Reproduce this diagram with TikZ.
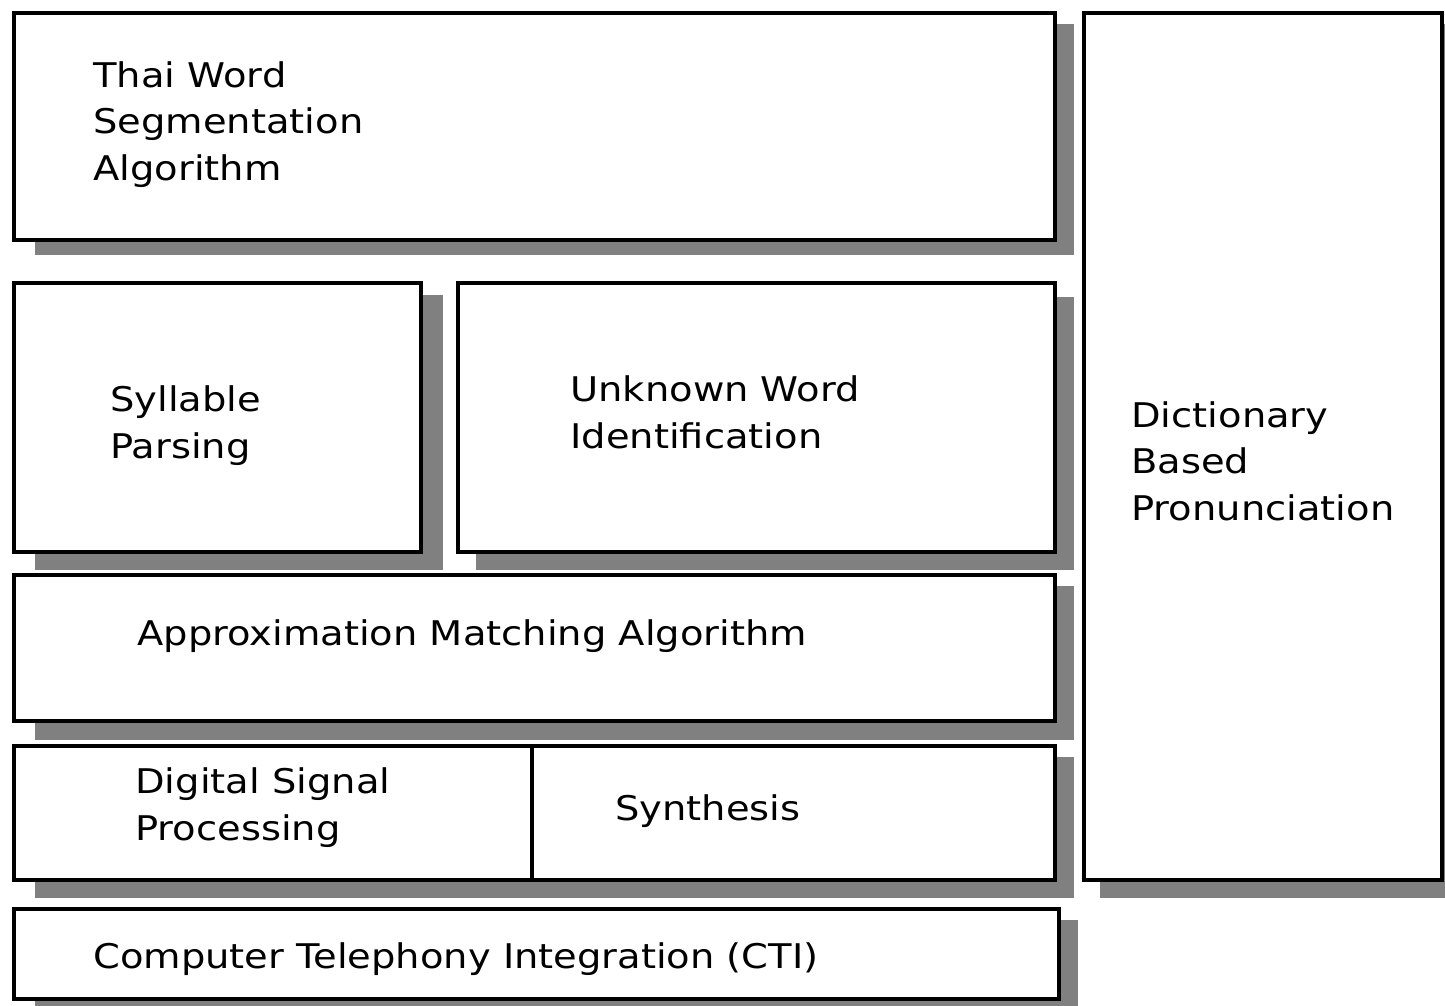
\documentclass[tikz,border=0pt]{standalone}
\usepackage{fontspec}
\setmainfont{DejaVu Sans}[FakeStretch=1.13]
\begin{document}
\begin{tikzpicture}[x=0.5pt,y=-0.5pt,
  shadowbox/.style={fill=black!50,draw=none},
  layerbox/.style={fill=white,draw=black,line width=2pt},
  label/.style={anchor=base west,inner sep=0pt,align=left,font=\fontsize{17}{23.25}\selectfont}]
\useasboundingbox (0,0) rectangle (1445,1006);
\begin{scope}
\clip (0,0) rectangle (1445,1006);
% shadows
\fill[shadowbox] (35,24) rectangle (1074,255);
\fill[shadowbox] (35,295) rectangle (443,570);
\fill[shadowbox] (476,297) rectangle (1074,570);
\fill[shadowbox] (35,586) rectangle (1074,740);
\fill[shadowbox] (35,757) rectangle (1074,898);
\fill[shadowbox] (35,920) rectangle (1078,1012);
\fill[shadowbox] (1100,24) rectangle (1462,898);
% boxes (line centres)
\draw[layerbox] (14,13) rectangle (1055,240);
\draw[layerbox] (14,283) rectangle (421,552);
\draw[layerbox] (458,283) rectangle (1055,552);
\draw[layerbox] (14,575) rectangle (1055,721);
\draw[layerbox] (14,746) rectangle (1055,880);
\coordinate (divtop) at (532,746);
\coordinate (divbot) at (532,880);
\draw[line width=2pt] (divtop) -- (divbot);
\draw[layerbox] (14,909) rectangle (1059,999);
\draw[layerbox] (1084,13) rectangle (1442,880);
\end{scope}
% labels (multi-line nodes: base = last line)
\node[label] (thai) at (93,180) {Thai Word\\Segmentation\\Algorithm};
\node[label] (syl) at (110,458) {Syllable\\Parsing};
\node[label] (unk) at (570,448) {Unknown Word\\Identification};
\node[label] (dict) at (1131,520) {Dictionary\\Based\\Pronunciation};
\node[label] (approx) at (137,645) {Approximation Matching Algorithm};
\node[label] (dsp) at (135,840) {Digital Signal\\Processing};
\node[label] (syn) at (615,820) {Synthesis};
\node[label] (cti) at (93,968) {Computer Telephony Integration (CTI)};
\end{tikzpicture}
\end{document}
